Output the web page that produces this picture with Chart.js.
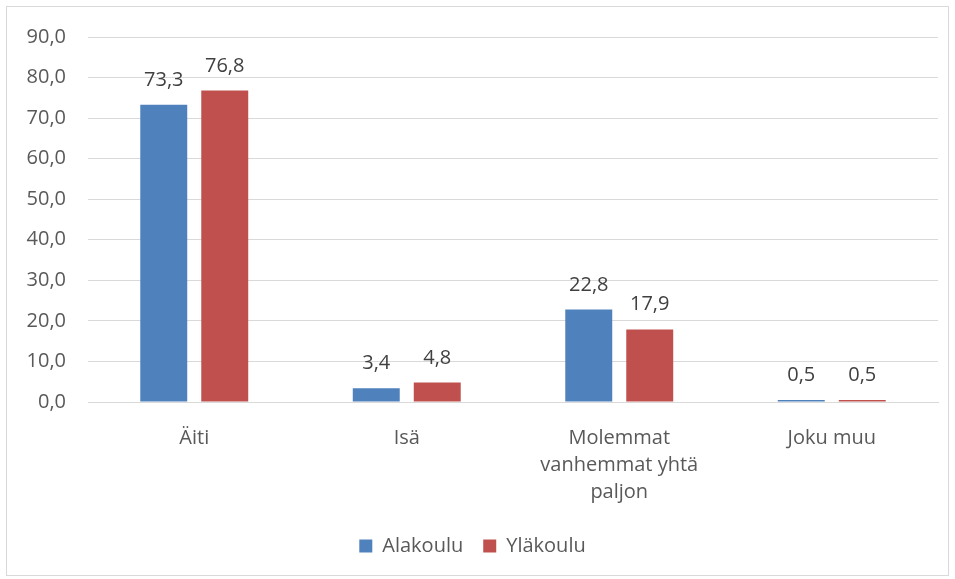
<!DOCTYPE html>
<html>
<head>
<meta charset="utf-8">
<script src="https://cdn.jsdelivr.net/npm/chart.js@4"></script>
<style>
  html, body { margin: 0; padding: 0; background: #fff; }
  #wrap {
    position: absolute; left: 6px; top: 6px;
    width: 941px; height: 568px;
    border: 1px solid #d9d9d9;
  }
</style>
</head>
<body>
<div id="wrap"><canvas id="chart"></canvas></div>
<script>
// ─── DATA ─────────────────────────────────────────────
const categories = ['Äiti', 'Isä', ['Molemmat', 'vanhemmat yhtä', 'paljon'], 'Joku muu'];
const alakoulu = [73.3, 3.4, 22.8, 0.5];
const ylakoulu = [76.8, 4.8, 17.9, 0.5];
const seriesNames = ['Alakoulu', 'Yläkoulu'];

const FONT = "'Open Sans', sans-serif";
const SIZE = 20;
const fmt = v => v.toFixed(1).replace('.', ',');

// value labels above the bars
const valueLabels = {
  id: 'valueLabels',
  afterDatasetsDraw(chart) {
    const { ctx } = chart;
    ctx.save();
    ctx.font = `${SIZE}px ${FONT}`;
    ctx.fillStyle = '#404040';
    ctx.textAlign = 'center';
    ctx.textBaseline = 'alphabetic';
    chart.data.datasets.forEach((ds, i) => {
      chart.getDatasetMeta(i).data.forEach((bar, j) => {
        ctx.fillText(fmt(ds.data[j]), bar.x, bar.y - 19);
      });
    });
    ctx.restore();
  }
};

new Chart(document.getElementById('chart'), {
  type: 'bar',
  data: {
    labels: categories,
    datasets: [
      { label: seriesNames[0], data: alakoulu, backgroundColor: '#4f81bd' },
      { label: seriesNames[1], data: ylakoulu, backgroundColor: '#c0504d' }
    ]
  },
  options: {
    responsive: true,
    maintainAspectRatio: false,
    animation: false,
    categoryPercentage: 0.574,
    barPercentage: 0.77,
    layout: { padding: { top: 30, right: 10, left: 0, bottom: 9 } },
    plugins: {
      tooltip: { enabled: false },
      legend: {
        position: 'bottom',
        labels: {
          boxWidth: 13, boxHeight: 13, padding: 20,
          color: '#595959',
          font: { family: FONT, size: SIZE }
        }
      }
    },
    scales: {
      x: {
        grid: { display: false },
        border: { display: true, color: '#d9d9d9' },
        ticks: {
          color: '#595959', maxRotation: 0, padding: 15,
          font: { family: FONT, size: SIZE, lineHeight: 27 / SIZE }
        },
        afterFit: s => { s.height = 114; }
      },
      y: {
        min: 0, max: 90,
        // invisible tick marks give the gap between labels and plot
        grid: { color: '#d9d9d9', drawTicks: true, tickLength: 22, tickColor: 'rgba(0,0,0,0)' },
        border: { display: false },
        ticks: {
          stepSize: 10, padding: 0, color: '#595959',
          font: { family: FONT, size: SIZE },
          callback: v => fmt(v)
        },
        afterFit: s => { s.width = 81; }
      }
    }
  },
  plugins: [valueLabels]
});
</script>
</body>
</html>
